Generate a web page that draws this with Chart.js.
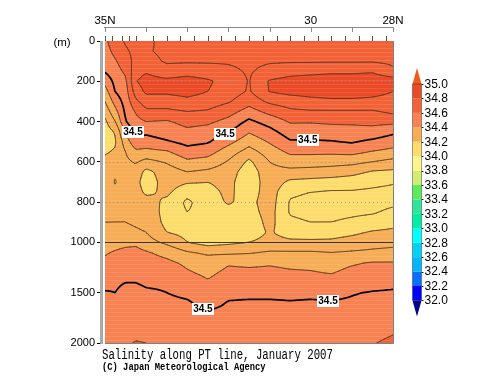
<!DOCTYPE html>
<html><head><meta charset="utf-8">
<script src="https://cdn.jsdelivr.net/npm/chart.js@4/dist/chart.umd.min.js"></script>
<style>html,body{margin:0;padding:0;background:#fff;}canvas{display:block;}</style>
</head><body>
<canvas id="c" width="500" height="387"></canvas>
<script>
// ---------------- DATA ----------------
const latitudes = [35, 34.75, 34.5, 34.25, 34, 33.5, 33, 32.5, 32, 31.5, 31, 30.5, 30, 29.5, 29, 28.5, 28];
const depths = [0,50,100,150,200,250,300,350,400,450,500,550,600,650,700,750,800,850,900,950,1000,1100,1200,1300,1400,1500,1600,1700,1800,2000];

// salinity profiles (one per latitude, values at `depths`)
const sal_35_00 = [34.58,34.56,34.54,34.51,34.43,34.36,34.30,34.24,34.18,34.15,34.16,34.19,34.22,34.25,34.27,34.28,34.27,34.28,34.30,34.32,34.34,34.39,34.42,34.45,34.48,34.505,34.52,34.53,34.54,34.57];
const sal_34_75 = [34.66,34.63,34.59,34.56,34.53,34.505,34.44,34.37,34.30,34.21,34.19,34.21,34.24,34.22,34.19,34.23,34.27,34.29,34.30,34.32,34.36,34.41,34.44,34.46,34.49,34.50,34.51,34.525,34.54,34.58];
const sal_34_50 = [34.71,34.69,34.66,34.62,34.58,34.56,34.54,34.52,34.495,34.42,34.35,34.30,34.28,34.27,34.26,34.27,34.28,34.29,34.30,34.32,34.37,34.43,34.46,34.48,34.50,34.52,34.53,34.54,34.55,34.59];
const sal_34_25 = [34.72,34.72,34.73,34.76,34.795,34.75,34.68,34.61,34.57,34.53,34.47,34.38,34.31,34.26,34.23,34.24,34.26,34.28,34.29,34.31,34.38,34.43,34.46,34.48,34.50,34.52,34.53,34.54,34.56,34.605];
const sal_34_00 = [34.72,34.71,34.73,34.79,34.84,34.82,34.75,34.68,34.60,34.52,34.46,34.37,34.27,34.17,34.15,34.18,34.24,34.27,34.28,34.30,34.34,34.41,34.44,34.47,34.49,34.51,34.53,34.54,34.56,34.60];
const sal_33_50 = [34.67,34.68,34.69,34.73,34.83,34.82,34.75,34.68,34.59,34.55,34.49,34.39,34.31,34.25,34.24,34.22,34.18,34.16,34.17,34.20,34.28,34.37,34.42,34.46,34.49,34.50,34.52,34.53,34.55,34.58];
const sal_33_00 = [34.67,34.68,34.69,34.75,34.85,34.84,34.77,34.70,34.63,34.58,34.53,34.46,34.38,34.30,34.21,34.14,34.08,34.10,34.14,34.17,34.20,34.31,34.38,34.41,34.45,34.48,34.51,34.525,34.54,34.57];
const sal_32_50 = [34.67,34.68,34.69,34.74,34.815,34.80,34.75,34.69,34.62,34.56,34.51,34.44,34.36,34.28,34.20,34.17,34.16,34.14,34.13,34.14,34.16,34.28,34.35,34.38,34.41,34.45,34.47,34.51,34.53,34.56];
const sal_32_00 = [34.67,34.68,34.69,34.72,34.76,34.75,34.71,34.64,34.57,34.51,34.43,34.35,34.29,34.25,34.23,34.22,34.21,34.17,34.14,34.15,34.18,34.28,34.39,34.42,34.45,34.48,34.505,34.52,34.53,34.56];
const sal_31_50 = [34.66,34.67,34.68,34.69,34.695,34.69,34.64,34.56,34.48,34.41,34.34,34.26,34.18,34.14,34.13,34.15,34.17,34.16,34.14,34.15,34.20,34.29,34.38,34.42,34.45,34.48,34.51,34.52,34.53,34.56];
const sal_31_00 = [34.66,34.67,34.69,34.73,34.81,34.805,34.72,34.63,34.54,34.47,34.41,34.35,34.30,34.27,34.26,34.25,34.25,34.24,34.23,34.21,34.23,34.31,34.39,34.42,34.45,34.48,34.51,34.52,34.53,34.56];
const sal_30_50 = [34.66,34.67,34.69,34.76,34.84,34.83,34.75,34.68,34.61,34.55,34.49,34.42,34.35,34.27,34.18,34.12,34.09,34.09,34.12,34.16,34.22,34.31,34.38,34.41,34.45,34.48,34.505,34.52,34.53,34.56];
const sal_30_00 = [34.66,34.67,34.69,34.77,34.85,34.84,34.77,34.69,34.61,34.54,34.49,34.42,34.35,34.26,34.17,34.10,34.07,34.07,34.10,34.15,34.22,34.31,34.38,34.405,34.44,34.48,34.51,34.52,34.53,34.56];
const sal_29_50 = [34.65,34.67,34.69,34.78,34.86,34.85,34.78,34.69,34.62,34.55,34.495,34.42,34.34,34.25,34.16,34.09,34.06,34.07,34.10,34.16,34.22,34.30,34.37,34.395,34.44,34.48,34.505,34.52,34.53,34.57];
const sal_29_00 = [34.65,34.67,34.69,34.78,34.86,34.85,34.78,34.69,34.62,34.56,34.51,34.43,34.33,34.23,34.15,34.09,34.06,34.08,34.12,34.18,34.24,34.31,34.39,34.42,34.46,34.495,34.51,34.525,34.54,34.58];
const sal_28_50 = [34.65,34.67,34.69,34.79,34.86,34.84,34.77,34.69,34.63,34.56,34.48,34.395,34.30,34.19,34.13,34.08,34.07,34.09,34.14,34.21,34.26,34.32,34.405,34.43,34.47,34.505,34.52,34.535,34.55,34.595];
const sal_28_00 = [34.65,34.67,34.68,34.72,34.86,34.80,34.76,34.72,34.63,34.52,34.45,34.37,34.27,34.18,34.11,34.07,34.08,34.12,34.17,34.22,34.27,34.33,34.405,34.44,34.48,34.51,34.53,34.55,34.57,34.62];
const profiles = [sal_35_00, sal_34_75, sal_34_50, sal_34_25, sal_34_00, sal_33_50, sal_33_00, sal_32_50,
                  sal_32_00, sal_31_50, sal_31_00, sal_30_50, sal_30_00, sal_29_50, sal_29_00, sal_28_50, sal_28_00];

// colour scale
const colorLevels = [32.0,32.2,32.4,32.6,32.8,33.0,33.2,33.4,33.6,33.8,34.0,34.2,34.4,34.6,34.8,35.0];
const bandColors = ['#00008c','#0000ff','#0a6eff','#00b4ff','#00d2f5','#00ffff','#00eea0','#2de69a','#5aeb5a',
                    '#d2ee6e','#fff48c','#fcdd6c','#f6ad56','#f88252','#f26236','#eb4a26','#f05a1e'];
// contour lines
const contourLevels = [34.0,34.1,34.2,34.3,34.4,34.5,34.6,34.7,34.8,34.9];
const boldLevel = 34.5;
const upperLabelLats = [34.32, 32.08, 30.07];
const deepLabelLats = [32.62, 29.58];
// axes
const depthTicks = [0,200,400,600,800,1000,1500,2000];
const latTicks = [35,34,33,32,31,30,29,28];
const latLabelValues = [35,30,28];
const latLabelTexts = ['35N','30','28N'];
const stations = [35.0,34.83,34.58,34.42,34.25,33.83,33.5,33.17,32.83,32.5,32.17,31.83,31.5,31.17,30.83,30.5,30.17,29.83,29.5,29.17,28.83,28.5,28.17];
const titleText = 'Salinity along PT line, January 2007';
const creditText = '(C) Japan Meteorological Agency';

// ---------------- HELPERS ----------------
function depthToAxis(d){ return d <= 1000 ? d : 1000 + (d - 1000) / 2; }
function axisToDepth(a){ return a <= 1000 ? a : 1000 + (a - 1000) * 2; }
function clamp01(t){ return t < 0 ? 0 : (t > 1 ? 1 : t); }
function salinityAt(lat, depth){
  let i = 0;
  while (i < latitudes.length - 2 && lat < latitudes[i+1]) i++;
  const tx = clamp01((latitudes[i] - lat) / (latitudes[i] - latitudes[i+1]));
  let j = 0;
  while (j < depths.length - 2 && depth > depths[j+1]) j++;
  const ty = clamp01((depth - depths[j]) / (depths[j+1] - depths[j]));
  const p0 = profiles[i], p1 = profiles[i+1];
  const a = p0[j] + (p0[j+1] - p0[j]) * ty;
  const b = p1[j] + (p1[j+1] - p1[j]) * ty;
  return a + (b - a) * tx;
}
function bandIndex(v){
  if (v < colorLevels[0]) return 0;
  for (let k = colorLevels.length - 1; k >= 0; k--) if (v >= colorLevels[k] - 1e-9) return k + 1;
  return 0;
}
function hexToRgb(h){ const n = parseInt(h.slice(1), 16); return [(n>>16)&255, (n>>8)&255, n&255]; }

const fieldPlugin = {
  id: 'field',
  beforeDatasetsDraw(chart){
    const ctx = chart.ctx, a = chart.chartArea, xs = chart.scales.x, ys = chart.scales.y;
    const w = Math.round(a.right - a.left), h = Math.round(a.bottom - a.top);
    // filled bands
    const off = document.createElement('canvas'); off.width = w; off.height = h;
    const octx = off.getContext('2d');
    const img = octx.createImageData(w, h);
    const rgb = bandColors.map(hexToRgb);
    const latCol = [];
    for (let px = 0; px < w; px++) latCol.push(xs.getValueForPixel(a.left + px + 0.5));
    for (let py = 0; py < h; py++) {
      const d = axisToDepth(ys.getValueForPixel(a.top + py + 0.5));
      for (let px = 0; px < w; px++) {
        const c = rgb[bandIndex(salinityAt(latCol[px], d))];
        const o = (py * w + px) * 4;
        img.data[o] = c[0]; img.data[o+1] = c[1]; img.data[o+2] = c[2]; img.data[o+3] = 255;
      }
    }
    octx.putImageData(img, 0, 0);
    ctx.drawImage(off, a.left, a.top);

    ctx.save();
    ctx.beginPath(); ctx.rect(a.left, a.top, w, h); ctx.clip();
    // faint raster striping of the original plot
    ctx.fillStyle = 'rgba(255,255,255,0.10)';
    for (let yy = a.top + 3; yy < a.bottom; yy += 4) ctx.fillRect(a.left, yy, w, 1);
    // dotted grid lines
    ctx.strokeStyle = 'rgba(150,150,150,0.8)'; ctx.lineWidth = 1; ctx.setLineDash([1,3]);
    depthTicks.forEach(d => {
      if (d === 0 || d === 1000 || d === 2000) return;
      const y = Math.round(ys.getPixelForValue(depthToAxis(d))) + 0.5;
      ctx.beginPath(); ctx.moveTo(a.left, y); ctx.lineTo(a.right, y); ctx.stroke();
    });
    ctx.setLineDash([]);

    // contour lines via marching squares on a fine sample grid
    const step = 2;
    const nx = Math.floor(w / step) + 1, ny = Math.floor(h / step) + 1;
    const gx = [], gy = [];
    for (let i = 0; i < nx; i++) gx.push(a.left + Math.min(i * step, w));
    for (let j = 0; j < ny; j++) gy.push(a.top + Math.min(j * step, h));
    const G = new Float64Array(nx * ny);
    for (let j = 0; j < ny; j++) {
      const d = axisToDepth(ys.getValueForPixel(gy[j]));
      for (let i = 0; i < nx; i++) G[j*nx+i] = salinityAt(xs.getValueForPixel(gx[i]), d);
    }
    contourLevels.forEach(L0 => {
      const L = L0 + 1e-7;
      const bold = Math.abs(L0 - boldLevel) < 1e-6;
      ctx.beginPath();
      for (let j = 0; j < ny - 1; j++) {
        for (let i = 0; i < nx - 1; i++) {
          const v0 = G[j*nx+i], v1 = G[j*nx+i+1], v2 = G[(j+1)*nx+i+1], v3 = G[(j+1)*nx+i];
          const pts = [];
          const x0 = gx[i], x1 = gx[i+1], y0 = gy[j], y1 = gy[j+1];
          if ((v0 >= L) !== (v1 >= L)) pts.push([x0 + (x1-x0)*(L-v0)/(v1-v0), y0]);
          if ((v1 >= L) !== (v2 >= L)) pts.push([x1, y0 + (y1-y0)*(L-v1)/(v2-v1)]);
          if ((v3 >= L) !== (v2 >= L)) pts.push([x0 + (x1-x0)*(L-v3)/(v2-v3), y1]);
          if ((v0 >= L) !== (v3 >= L)) pts.push([x0, y0 + (y1-y0)*(L-v0)/(v3-v0)]);
          if (pts.length === 2) {
            ctx.moveTo(pts[0][0], pts[0][1]); ctx.lineTo(pts[1][0], pts[1][1]);
          } else if (pts.length === 4) {
            const c = (v0+v1+v2+v3)/4;
            if ((c >= L) === (v0 >= L)) {
              ctx.moveTo(pts[0][0], pts[0][1]); ctx.lineTo(pts[1][0], pts[1][1]);
              ctx.moveTo(pts[2][0], pts[2][1]); ctx.lineTo(pts[3][0], pts[3][1]);
            } else {
              ctx.moveTo(pts[0][0], pts[0][1]); ctx.lineTo(pts[3][0], pts[3][1]);
              ctx.moveTo(pts[1][0], pts[1][1]); ctx.lineTo(pts[2][0], pts[2][1]);
            }
          }
        }
      }
      ctx.lineCap = 'round';
      ctx.strokeStyle = bold ? '#000' : 'rgba(80,50,28,0.85)';
      ctx.lineWidth = bold ? 1.7 : 0.85;
      ctx.stroke();
    });

    // 1000 m divider
    const y1000 = Math.round(ys.getPixelForValue(depthToAxis(1000))) + 0.5;
    ctx.strokeStyle = '#3a3a3a'; ctx.lineWidth = 1.2;
    ctx.beginPath(); ctx.moveTo(a.left, y1000); ctx.lineTo(a.right, y1000); ctx.stroke();

    // 34.5 labels
    function crossing(lat, d0, d1){
      let prev = salinityAt(lat, d0);
      for (let d = d0 + 1; d <= d1; d++) {
        const v = salinityAt(lat, d);
        if ((prev >= boldLevel) !== (v >= boldLevel)) return d;
        prev = v;
      }
      return null;
    }
    ctx.font = 'bold 10px "Liberation Sans", Arial, sans-serif';
    ctx.textAlign = 'center'; ctx.textBaseline = 'middle';
    const drawLabel = (lat, d) => {
      if (d === null) return;
      const cx = xs.getPixelForValue(lat), cy = ys.getPixelForValue(depthToAxis(d));
      ctx.fillStyle = '#fff';
      ctx.fillRect(Math.round(cx - 11), Math.round(cy - 6), 22, 12);
      ctx.fillStyle = '#000';
      ctx.fillText(boldLevel.toFixed(1), cx, cy + 0.5);
    };
    upperLabelLats.forEach(lat => drawLabel(lat, crossing(lat, 0, 1000)));
    deepLabelLats.forEach(lat => drawLabel(lat, crossing(lat, 1001, 2000)));
    ctx.restore();
  },
  afterDraw(chart){
    const ctx = chart.ctx, a = chart.chartArea, xs = chart.scales.x;
    ctx.save();
    // left axis bar
    ctx.fillStyle = '#a9a9a9'; ctx.fillRect(a.left - 5, a.top, 3, a.bottom - a.top + 1);
    ctx.fillStyle = '#ffffff'; ctx.fillRect(a.left - 2, a.top, 2, a.bottom - a.top + 1);
    // right & bottom frame
    ctx.strokeStyle = '#808080'; ctx.lineWidth = 1;
    ctx.beginPath();
    ctx.moveTo(a.right + 0.5, a.top); ctx.lineTo(a.right + 0.5, a.bottom + 0.5);
    ctx.lineTo(a.left, a.bottom + 0.5);
    ctx.stroke();
    // top axis line and degree ticks
    const axY = 27.5;
    ctx.strokeStyle = '#8a8a8a';
    ctx.beginPath();
    ctx.moveTo(xs.getPixelForValue(35) - 1, axY); ctx.lineTo(xs.getPixelForValue(28) + 0.5, axY);
    latTicks.forEach(v => { const px = Math.round(xs.getPixelForValue(v)) + 0.5; ctx.moveTo(px, axY); ctx.lineTo(px, axY + 4.5); });
    ctx.stroke();
    // station ticks
    ctx.strokeStyle = '#555';
    ctx.beginPath();
    stations.forEach(v => { const px = Math.round(xs.getPixelForValue(v)) + 0.5; ctx.moveTo(px, a.top - 5); ctx.lineTo(px, a.top); });
    ctx.stroke();
    // (m)
    ctx.fillStyle = '#000';
    ctx.font = '11.5px "Liberation Sans", Arial, sans-serif';
    ctx.textAlign = 'center'; ctx.textBaseline = 'middle';
    ctx.fillText('(m)', 62, 43);
    // colour bar
    const cbX = 412.5, cbW = 9, cbTop = 84, cbStep = 14.43;
    const yOf = lv => cbTop + (colorLevels[colorLevels.length-1] - lv) / 0.2 * cbStep;
    for (let k = 0; k < colorLevels.length - 1; k++) {
      const yA = yOf(colorLevels[k+1]), yB = yOf(colorLevels[k]);
      ctx.fillStyle = bandColors[k+1];
      ctx.fillRect(cbX, yA, cbW, yB - yA);
    }
    const yTop = yOf(colorLevels[colorLevels.length-1]), yBot = yOf(colorLevels[0]);
    ctx.fillStyle = bandColors[bandColors.length-1];
    ctx.beginPath(); ctx.moveTo(cbX, yTop); ctx.lineTo(cbX + cbW, yTop); ctx.lineTo(cbX + cbW/2, yTop - 16); ctx.closePath(); ctx.fill();
    ctx.fillStyle = bandColors[0];
    ctx.beginPath(); ctx.moveTo(cbX, yBot); ctx.lineTo(cbX + cbW, yBot); ctx.lineTo(cbX + cbW/2, yBot + 16); ctx.closePath(); ctx.fill();
    ctx.strokeStyle = 'rgba(40,40,40,0.7)'; ctx.lineWidth = 0.6;
    ctx.strokeRect(cbX, yTop, cbW, yBot - yTop);
    ctx.strokeStyle = '#222'; ctx.lineWidth = 1;
    ctx.beginPath();
    colorLevels.forEach(lv => { const y = Math.round(yOf(lv)) + 0.5; ctx.moveTo(cbX + cbW, y); ctx.lineTo(cbX + cbW + 2, y); });
    ctx.stroke();
    ctx.fillStyle = '#000';
    ctx.font = '12px "Liberation Sans", Arial, sans-serif';
    ctx.textAlign = 'left'; ctx.textBaseline = 'middle';
    colorLevels.forEach(lv => ctx.fillText(lv.toFixed(1), 424.5, yOf(lv) + 0.5));
    // titles
    ctx.textBaseline = 'alphabetic'; ctx.textAlign = 'left';
    ctx.save(); ctx.translate(102, 358.5); ctx.scale(1, 1.35);
    ctx.font = '10.7px "Liberation Mono", "Courier New", monospace';
    ctx.fillText(titleText, 0, 0); ctx.restore();
    ctx.save(); ctx.translate(102, 369.5); ctx.scale(1, 1.3);
    ctx.font = 'bold 8.8px "Liberation Mono", "Courier New", monospace';
    ctx.fillText(creditText, 0, 0); ctx.restore();
    ctx.restore();
  }
};

const tickFont = { family: '"Liberation Sans", Arial, sans-serif', size: 11 };
new Chart(document.getElementById('c').getContext('2d'), {
  type: 'scatter',
  data: { datasets: [] },
  options: {
    responsive: false, animation: false, devicePixelRatio: 1,
    layout: { padding: { left: 0, top: 0, right: 107, bottom: 44 } },
    plugins: { legend: { display: false }, tooltip: { enabled: false } },
    scales: {
      x: {
        type: 'linear', position: 'top', reverse: true, min: 28, max: 35,
        afterBuildTicks: s => { s.ticks = latTicks.map(v => ({ value: v })); },
        afterFit: s => { s.height = 41; },
        ticks: { autoSkip: false, maxRotation: 0, padding: 13, color: '#000',
                 font: { family: tickFont.family, size: 11.5 },
                 callback: v => { const k = latLabelValues.indexOf(v); return k >= 0 ? latLabelTexts[k] : ''; } },
        grid: { display: false, drawTicks: false }, border: { display: false }
      },
      y: {
        type: 'linear', position: 'left', reverse: true, min: 0, max: depthToAxis(2000),
        afterBuildTicks: s => { s.ticks = depthTicks.map(d => ({ value: depthToAxis(d) })); },
        afterFit: s => { s.width = 105; },
        ticks: { autoSkip: false, padding: 2, color: '#000', font: tickFont,
                 callback: v => String(Math.round(axisToDepth(v))) },
        grid: { display: true, drawOnChartArea: false, drawTicks: true, tickLength: 8, color: '#000', lineWidth: 1 },
        border: { display: false }
      }
    }
  },
  plugins: [fieldPlugin]
});
</script>
</body></html>
